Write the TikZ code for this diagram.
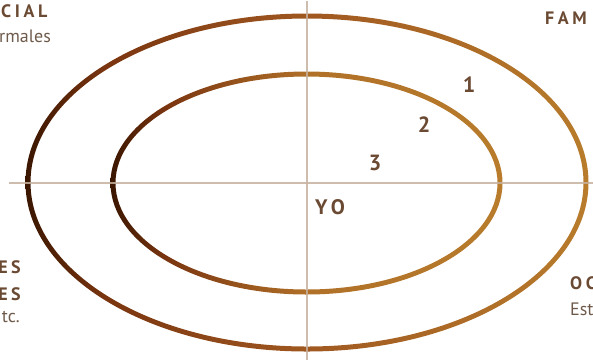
\documentclass[tikz,border=0pt]{standalone}
\usepackage{fontspec}
\setmainfont{PT Sans}
\newfontfamily\headfont[LetterSpace=20]{PT Sans}
\usetikzlibrary{positioning}
\definecolor{txtbrown}{HTML}{6B4A33}
\definecolor{subbrown}{HTML}{6E5A4A}
\definecolor{axiscol}{HTML}{C6B19E}
\definecolor{ringdark}{HTML}{3A1600}
\definecolor{ringred}{HTML}{7A3510}
\definecolor{ringmid}{HTML}{A05820}
\definecolor{ringmidb}{HTML}{B07028}
\definecolor{ringgold}{HTML}{B87C2C}
\pgfdeclarehorizontalshading{outershade}{100bp}{color(0bp)=(ringdark); color(25bp)=(ringdark); color(32bp)=(ringred); color(50bp)=(ringmid); color(75bp)=(ringgold); color(100bp)=(ringgold)}
\pgfdeclarehorizontalshading{innershade}{100bp}{color(0bp)=(ringdark); color(25bp)=(ringdark); color(32bp)=(ringred); color(50bp)=(ringmidb); color(75bp)=(ringgold); color(100bp)=(ringgold)}
\tikzset{
  head/.style={font=\headfont\bfseries\fontsize{18}{21}\selectfont, text=txtbrown, inner sep=0pt},
  sub/.style={font=\fontsize{18}{21}\selectfont, text=subbrown, inner sep=0pt},
  num/.style={font=\bfseries\fontsize{22}{26}\selectfont, text=txtbrown, inner sep=0pt},
  axis/.style={draw=axiscol, line width=1.4pt, opacity=0.85},
}
\begin{document}
\begin{tikzpicture}[x=1pt,y=-1pt]
\useasboundingbox (0,0) rectangle (593,360);
\clip (0,0) rectangle (593,360);
% rings
\shade[shading=outershade, even odd rule] (307,182.5) ellipse (281.5 and 169) (307,182.5) ellipse (276.5 and 164);
\shade[shading=innershade, even odd rule] (306.5,183) ellipse (196 and 111.5) (306.5,183) ellipse (191 and 106.5);
% axes
\coordinate (hl) at (9,183);
\coordinate (hr) at (593,183);
\coordinate (vt) at (307,1);
\coordinate (vb) at (307,360);
\draw[axis] (hl) -- (hr);
\draw[axis] (vt) -- (vb);
% corner labels
\node[head, anchor=base west] (tl) at (1,17) {CIAL};
\node[sub, anchor=base west] (tls) at (-1,42) {rmales};
\node[head, anchor=base west] (tr) at (545,24) {FAM};
\node[head, anchor=base east] (bl1) at (21,273) {ES};
\node[head, anchor=base east] (bl2) at (21,300) {ES};
\node[sub, anchor=base east] (bl3) at (20,322) {tc.};
\node[head, anchor=base west] (br) at (570,289) {OC};
\node[sub, anchor=base west] (brs) at (570,315) {Est};
% numbers
\node[num, anchor=base] (n1) at (469,92) {1};
\node[num, anchor=base] (n2) at (424,132) {2};
\node[num, anchor=base] (n3) at (375,170) {3};
\node[num, anchor=base west, font=\headfont\bfseries\fontsize{21}{25}\selectfont] (yo) at (315,214) {YO};
\end{tikzpicture}
\end{document}
